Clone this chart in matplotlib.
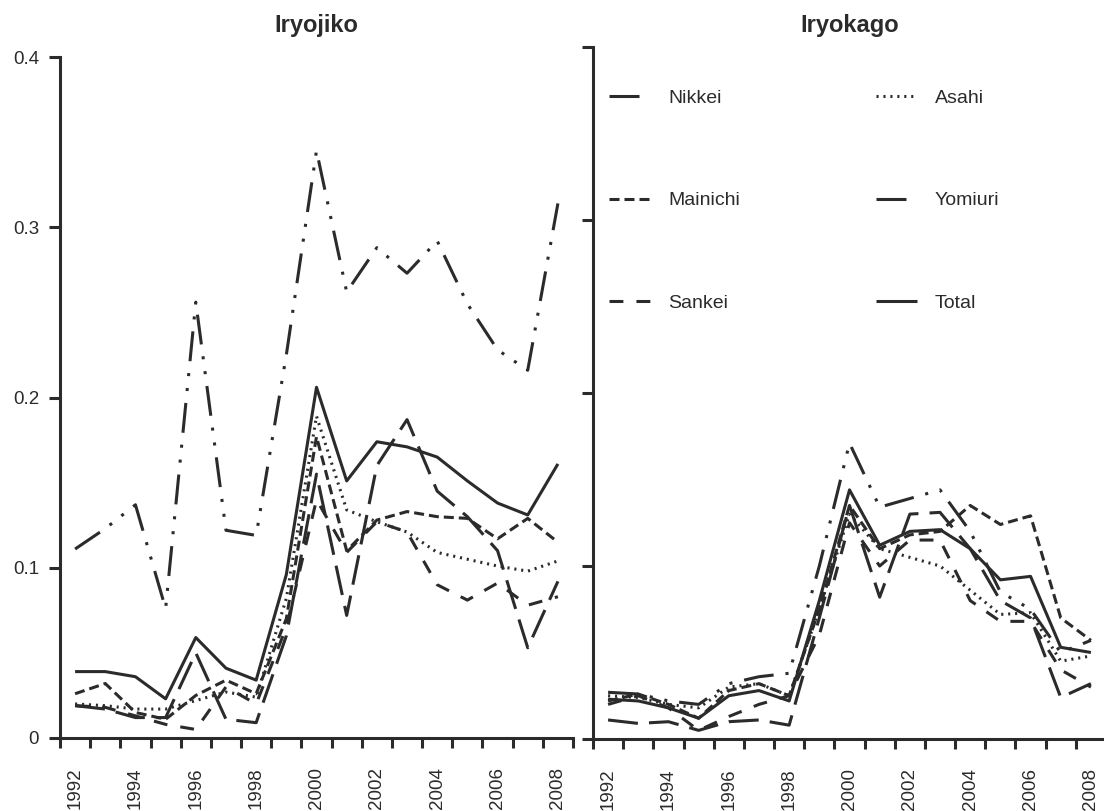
import numpy as np
import matplotlib
matplotlib.use('Agg')
import matplotlib.pyplot as plt
from matplotlib.ticker import FixedLocator, FixedFormatter, NullFormatter

plt.rcParams['font.family'] = ['Liberation Sans', 'DejaVu Sans']
plt.rcParams['lines.scale_dashes'] = False

years = list(range(1992, 2009))
year_labels = [str(y) if y % 2 == 0 else '' for y in years]
papers = ['Nikkei', 'Mainichi', 'Sankei', 'Asahi', 'Yomiuri', 'Total']

# Iryojiko (left panel)
jiko_nikkei = [0.111, 0.123, 0.137, 0.076, 0.256, 0.122, 0.119, 0.225, 0.345, 0.262, 0.288, 0.273, 0.292, 0.255, 0.228, 0.216, 0.314]
jiko_asahi = [0.020, 0.019, 0.017, 0.017, 0.022, 0.027, 0.024, 0.082, 0.189, 0.134, 0.127, 0.121, 0.109, 0.105, 0.101, 0.098, 0.104]
jiko_mainichi = [0.026, 0.032, 0.015, 0.011, 0.025, 0.034, 0.026, 0.070, 0.177, 0.110, 0.128, 0.133, 0.130, 0.129, 0.117, 0.129, 0.115]
jiko_sankei = [0.019, 0.018, 0.013, 0.008, 0.005, 0.030, 0.020, 0.065, 0.140, 0.109, 0.127, 0.121, 0.090, 0.081, 0.091, 0.078, 0.083]
jiko_yomiuri = [0.019, 0.017, 0.012, 0.012, 0.050, 0.011, 0.009, 0.060, 0.155, 0.072, 0.160, 0.187, 0.145, 0.130, 0.110, 0.053, 0.092]
jiko_total = [0.039, 0.039, 0.036, 0.023, 0.059, 0.041, 0.034, 0.096, 0.206, 0.151, 0.174, 0.171, 0.165, 0.151, 0.138, 0.131, 0.161]

# Iryokago (right panel)
kago_nikkei = [0.027, 0.026, 0.022, 0.020, 0.032, 0.036, 0.038, 0.100, 0.171, 0.134, 0.139, 0.144, 0.120, 0.085, 0.075, 0.050, 0.057]
kago_asahi = [0.025, 0.024, 0.020, 0.018, 0.030, 0.032, 0.025, 0.075, 0.130, 0.110, 0.105, 0.100, 0.086, 0.072, 0.073, 0.045, 0.048]
kago_mainichi = [0.022, 0.026, 0.020, 0.012, 0.028, 0.032, 0.025, 0.075, 0.135, 0.110, 0.118, 0.120, 0.135, 0.124, 0.129, 0.070, 0.057]
kago_sankei = [0.020, 0.025, 0.018, 0.005, 0.013, 0.020, 0.025, 0.060, 0.125, 0.100, 0.115, 0.115, 0.080, 0.068, 0.068, 0.040, 0.030]
kago_yomiuri = [0.011, 0.009, 0.010, 0.005, 0.010, 0.011, 0.008, 0.070, 0.135, 0.082, 0.130, 0.131, 0.110, 0.080, 0.070, 0.024, 0.032]
kago_total = [0.023, 0.022, 0.018, 0.012, 0.025, 0.028, 0.022, 0.080, 0.144, 0.112, 0.120, 0.121, 0.110, 0.092, 0.094, 0.053, 0.050]

ink = '#2b2b2b'
# dash patterns in points
styles = {
    'Nikkei': (21.6, 8.6, 2.2, 8.6, 2.2, 8.6),
    'Mainichi': (7.2, 3.6),
    'Sankei': (10, 9.4),
    'Asahi': (1.5, 3.5),
    'Yomiuri': (21.6, 8),
    'Total': None,
}

jiko = dict(Nikkei=jiko_nikkei, Mainichi=jiko_mainichi, Sankei=jiko_sankei,
            Asahi=jiko_asahi, Yomiuri=jiko_yomiuri, Total=jiko_total)
kago = dict(Nikkei=kago_nikkei, Mainichi=kago_mainichi, Sankei=kago_sankei,
            Asahi=kago_asahi, Yomiuri=kago_yomiuri, Total=kago_total)

fig = plt.figure(figsize=(11.04, 8.11), dpi=100)
W, H = 1104, 811
ax1 = fig.add_axes([60 / W, (H - 738) / H, 513 / W, 681 / H])
ax2 = fig.add_axes([593 / W, (H - 739) / H, 513 / W, 692 / H])

x = np.arange(len(years)) + 0.5


def draw(ax, data, title, title_pad, ylabels):
    handles = []
    for name in papers:
        ln, = ax.plot(x, data[name], color=ink, lw=2.2, label=name,
                      solid_capstyle='butt', dash_capstyle='butt')
        if styles[name] is not None:
            ln.set_dashes(styles[name])
        handles.append(ln)
    ax.set_xlim(0, len(years))
    ax.set_ylim(0, 0.4)
    for s in ['top', 'right']:
        ax.spines[s].set_visible(False)
    for s in ['left', 'bottom']:
        ax.spines[s].set_linewidth(2.2)
        ax.spines[s].set_color(ink)
    # ticks sit between the years, labels on the years
    ax.xaxis.set_major_locator(FixedLocator(np.arange(len(years) + 1)))
    ax.xaxis.set_major_formatter(NullFormatter())
    ax.xaxis.set_minor_locator(FixedLocator(x))
    ax.xaxis.set_minor_formatter(FixedFormatter(year_labels))
    ax.tick_params(axis='x', which='major', direction='out', length=7, width=2.2, color=ink)
    ax.tick_params(axis='x', which='minor', length=0, pad=21, labelsize=13.5,
                   labelrotation=90, labelcolor=ink)
    ax.set_yticks([0, 0.1, 0.2, 0.3, 0.4])
    if ylabels:
        ax.set_yticklabels(['0', '0.1', '0.2', '0.3', '0.4'])
    else:
        ax.set_yticklabels([])
    ax.tick_params(axis='y', direction='out', length=8, width=2.2, color=ink,
                   pad=7, labelsize=13.5, labelcolor=ink)
    ax.set_title(title, fontsize=17, fontweight='bold', color=ink, pad=title_pad)
    return handles


draw(ax1, jiko, 'Iryojiko', 18, True)
handles = draw(ax2, kago, 'Iryokago', 11, False)

ax2.legend(handles=handles, ncol=2, frameon=False, fontsize=14,
           handlelength=2.1, handletextpad=0.93, columnspacing=7.0,
           labelspacing=4.38, borderpad=0, borderaxespad=0,
           loc='upper left', bbox_to_anchor=(609 / W, 1 - 89 / H),
           bbox_transform=fig.transFigure, labelcolor=ink)

fig.savefig('out.png', dpi=100)
